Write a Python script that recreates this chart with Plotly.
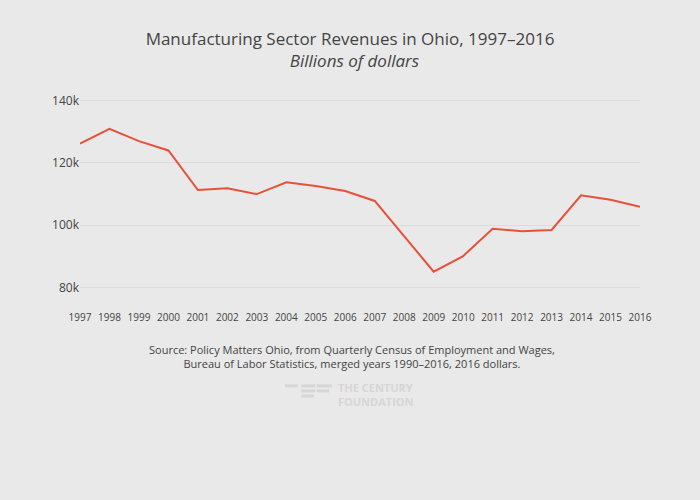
import plotly.graph_objects as go

years = list(range(1997, 2017))
revenues = [126200, 130900, 127000, 124000, 111300, 111900, 110000, 113800,
            112600, 111000, 107800, 96400, 85100, 90100, 98900, 98100, 98500,
            109600, 108200, 105900]
y_ticks = [80000, 100000, 120000, 140000]
y_tick_labels = ["80k", "100k", "120k", "140k"]

title = "Manufacturing Sector Revenues in Ohio, 1997–2016<br>&nbsp;&nbsp;<i>Billions of dollars</i>"
source = ("Source: Policy Matters Ohio, from Quarterly Census of Employment and Wages,<br>"
          "Bureau of Labor Statistics, merged years 1990–2016, 2016 dollars.")
logo_text = "<b>THE CENTURY<br>FOUNDATION</b>"

fig = go.Figure()
fig.add_trace(go.Scatter(x=years, y=revenues, mode="lines",
                         line=dict(color="#e8503a", width=2), hoverinfo="x+y"))

bg = "#e9e9e9"
fig.update_layout(
    width=700, height=500,
    paper_bgcolor=bg, plot_bgcolor=bg,
    font=dict(family="Open Sans", color="#444", size=12),
    title=dict(text=title, x=0.5, xanchor="center", y=0.91, yanchor="middle",
               font=dict(size=17, color="#444")),
    margin=dict(l=80, r=60, t=90, b=190),
    showlegend=False,
    xaxis=dict(range=[1997, 2016], tickmode="array", tickvals=years,
               ticktext=[str(y) for y in years], showgrid=False, zeroline=False,
               tickfont=dict(size=10, color="#444"), fixedrange=True),
    yaxis=dict(range=[72800, 143400], tickvals=y_ticks, ticktext=y_tick_labels,
               showgrid=True, gridcolor="#dcdcdc", zeroline=False,
               tickfont=dict(size=12, color="#444"), fixedrange=True),
)

fig.add_annotation(text=source, xref="paper", yref="paper", x=0.486, y=-0.136,
                   xanchor="center", yanchor="top", showarrow=False, align="center",
                   font=dict(size=11, color="#444"))
fig.add_annotation(text=logo_text, xref="paper", yref="paper",
                   x=0.457, y=-0.384, xanchor="left", yanchor="middle", showarrow=False,
                   align="left", font=dict(size=11, color="#d6d6d6"))

# faint logo bars
for (x0, x1, yy) in [(0.366, 0.389, -0.345), (0.395, 0.420, -0.345), (0.423, 0.45, -0.345),
                     (0.395, 0.420, -0.368), (0.423, 0.445, -0.368), (0.395, 0.418, -0.391)]:
    fig.add_shape(type="line", xref="paper", yref="paper", x0=x0, x1=x1, y0=yy, y1=yy,
                  line=dict(color="#d6d6d6", width=3))

fig.write_html("out.html", config={"displayModeBar": False},
               post_script="document.body.style.margin='0';")
